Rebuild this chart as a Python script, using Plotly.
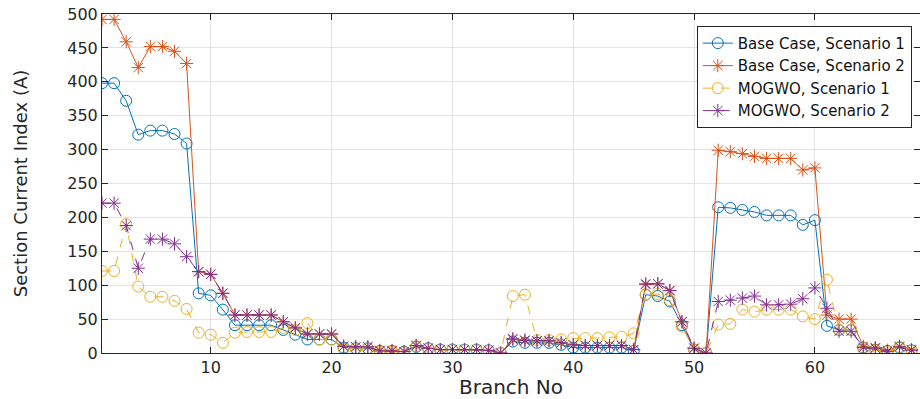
import plotly.graph_objects as go

branches = list(range(1, 69))

base_s1 = [398, 398, 372, 322, 328, 328, 323, 309, 88, 85,
           64, 41, 41, 41, 41, 34, 27, 20, 20, 20,
           8, 7, 7, 3, 3, 2, 9, 7, 5, 5,
           5, 5, 4, 0, 17, 15, 15, 15, 12, 8,
           8, 8, 8, 8, 3, 86, 84, 76, 41, 5,
           0, 215, 214, 211, 208, 203, 203, 203, 189, 196,
           40, 34, 34, 8, 5, 3, 8, 4]

base_s2 = [492, 492, 459, 421, 452, 452, 445, 427, 120, 116,
           88, 56, 56, 56, 56, 46, 37, 28, 28, 28,
           10, 9, 9, 4, 4, 2, 11, 7, 5, 5,
           5, 5, 4, 0, 20, 18, 18, 18, 15, 12,
           11, 11, 11, 11, 5, 101, 102, 92, 46, 7,
           0, 299, 297, 294, 290, 287, 287, 287, 270, 273,
           56, 50, 50, 10, 8, 4, 10, 5]

mogwo_s1 = [121, 121, 190, 98, 83, 83, 77, 65, 30, 27,
            15, 30, 31, 31, 31, 37, 34, 44, 20, 20,
            6, 6, 6, 2, 2, 1, 10, 6, 4, 4,
            4, 4, 3, 0, 84, 86, 19, 19, 20, 22,
            22, 22, 23, 24, 29, 86, 87, 78, 39, 5,
            0, 42, 43, 64, 61, 64, 64, 64, 54, 50,
            108, 34, 34, 7, 4, 2, 9, 3]

mogwo_s2 = [221, 221, 188, 125, 168, 168, 161, 142, 120, 116,
            88, 56, 56, 56, 56, 46, 37, 28, 28, 28,
            10, 9, 9, 3, 3, 2, 11, 7, 5, 5,
            5, 5, 4, 0, 21, 19, 18, 18, 15, 12,
            11, 11, 11, 11, 5, 102, 102, 92, 46, 7,
            0, 76, 78, 81, 84, 71, 71, 72, 80, 96,
            66, 32, 32, 8, 7, 2, 9, 4]

names = ["Base Case, Scenario 1", "Base Case, Scenario 2",
         "MOGWO, Scenario 1", "MOGWO, Scenario 2"]
series = [base_s1, base_s2, mogwo_s1, mogwo_s2]
colors = ["#0072BD", "#D95319", "#EDB120", "#7E2F8E"]
symbols = ["circle-open", "asterisk-open", "circle-open", "asterisk-open"]
dashes = ["solid", "solid", "dash", "dash"]

x_ticks = [10, 20, 30, 40, 50, 60]
y_ticks = [0, 50, 100, 150, 200, 250, 300, 350, 400, 450, 500]

fig = go.Figure()
for name, vals, c, s, d in zip(names, series, colors, symbols, dashes):
    fig.add_trace(go.Scatter(
        x=branches, y=vals, name=name, mode="lines+markers",
        line=dict(color=c, width=1, dash=d),
        marker=dict(symbol=s, size=11, color=c, line=dict(color=c, width=1)),
    ))

axis_col = "#262626"
grid_col = "#E3E3E3"
font_family = "DejaVu Sans"

fig.update_layout(
    width=920, height=399,
    margin=dict(l=102, r=0, t=14, b=46, autoexpand=False),
    paper_bgcolor="white", plot_bgcolor="white",
    font=dict(family=font_family, color=axis_col, size=16),
    showlegend=True,
    legend=dict(
        x=0.99, y=0.965, xanchor="right", yanchor="top",
        bgcolor="white", bordercolor=axis_col, borderwidth=1,
        font=dict(family=font_family, size=15, color="#111111"),
        tracegroupgap=0,
    ),
)
fig.update_xaxes(
    range=[1, 68.7], tickmode="array", tickvals=x_ticks,
    ticktext=[str(t) for t in x_ticks],
    showgrid=True, gridcolor=grid_col, gridwidth=1,
    zeroline=False, showline=True, linecolor=axis_col, linewidth=1,
    mirror="allticks", ticks="inside", ticklen=6, tickcolor=axis_col,
    tickfont=dict(size=16, family=font_family, color=axis_col),
    title=dict(text="Branch No", font=dict(size=20, family=font_family, color=axis_col), standoff=2),
    automargin=False,
)
fig.update_yaxes(
    range=[0, 500], tickmode="array", tickvals=y_ticks,
    ticktext=[str(t) for t in y_ticks],
    showgrid=True, gridcolor=grid_col, gridwidth=1,
    zeroline=False, showline=True, linecolor=axis_col, linewidth=1,
    mirror="allticks", ticks="inside", ticklen=6, tickcolor=axis_col,
    tickfont=dict(size=16, family=font_family, color=axis_col),
    title=dict(text="Section Current Index (A)", font=dict(size=18, family=font_family, color=axis_col), standoff=34),
    automargin=False,
)

fig.write_html("out.html")
